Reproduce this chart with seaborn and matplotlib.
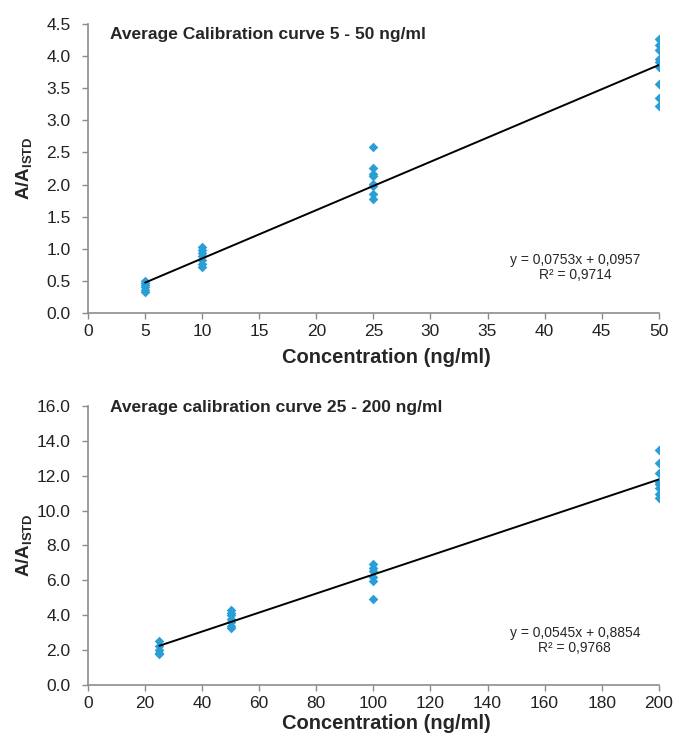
import pandas as pd
import seaborn as sns
import matplotlib.pyplot as plt
import numpy as np

# curve 5 - 50 ng/ml
conc_low = [5] * 6 + [10] * 7 + [25] * 8 + [50] * 9
ratio_low = [0.50, 0.47, 0.43, 0.40, 0.36, 0.33,
             1.03, 0.98, 0.93, 0.88, 0.83, 0.77, 0.71,
             2.58, 2.26, 2.17, 2.13, 2.01, 1.97, 1.85, 1.78,
             4.27, 4.18, 4.09, 3.95, 3.91, 3.83, 3.57, 3.35, 3.23]
fit_low = (0.0753, 0.0957)
eq_low = "y = 0,0753x + 0,0957\nR² = 0,9714"

# curve 25 - 200 ng/ml
conc_high = [25] * 5 + [50] * 7 + [100] * 6 + [200] * 8
ratio_high = [2.55, 2.25, 2.00, 1.85, 1.75,
              4.30, 4.15, 4.00, 3.80, 3.60, 3.40, 3.25,
              6.95, 6.69, 6.55, 6.21, 5.98, 4.92,
              13.50, 12.75, 12.17, 11.66, 11.50, 11.30, 10.95, 10.72]
fit_high = (0.0545, 0.8854)
eq_high = "y = 0,0545x + 0,8854\nR² = 0,9768"

sns.set_style("white")
plt.rcParams['font.family'] = ['Liberation Sans', 'DejaVu Sans']
plt.rcParams['mathtext.fontset'] = 'custom'
plt.rcParams['mathtext.rm'] = 'Liberation Sans'
plt.rcParams['mathtext.bf'] = 'Liberation Sans:bold'

point_color = '#2a9fd6'
axis_color = '#8c8c8c'

fig = plt.figure(figsize=(6.77, 7.39), dpi=100)
ax1 = fig.add_axes([0.130, 0.5765, 0.843, 0.391])
ax2 = fig.add_axes([0.130, 0.0731, 0.843, 0.3775])


def draw_panel(ax, conc, ratio, fit, eq, title, title_y, xlab_y, xmax, xstep, ymax, ystep):
    df = pd.DataFrame({'conc': conc, 'ratio': ratio})
    xs = np.array([min(conc), max(conc)])
    ax.plot(xs, fit[0] * xs + fit[1], color='black', lw=1.4, zorder=3)
    sns.scatterplot(data=df, x='conc', y='ratio', ax=ax, marker='D', s=24,
                    color=point_color, edgecolor=point_color, linewidth=0, zorder=2)
    ax.set_xlim(0, xmax)
    ax.set_ylim(0, ymax)
    yt = np.arange(0, ymax + 0.001, ystep)
    ax.set_xticks(np.arange(0, xmax + 0.01, xstep))
    ax.set_yticks(yt)
    ax.set_yticklabels(['{:.1f}'.format(v) for v in yt])
    for s in ['top', 'right']:
        ax.spines[s].set_visible(False)
    for s in ['left', 'bottom']:
        ax.spines[s].set_color(axis_color)
        ax.spines[s].set_linewidth(1.2)
    ax.tick_params(axis='both', direction='out', length=4, width=1, color=axis_color,
                   labelsize=12.5, labelcolor='#222222', left=True, bottom=True)
    ax.tick_params(axis='y', pad=8.5)
    ax.tick_params(axis='x', pad=4)
    ax.set_xlabel('Concentration (ng/ml)', fontsize=14.5, fontweight='bold')
    ax.xaxis.set_label_coords(0.522, xlab_y)
    ax.set_ylabel(r'$\mathbf{A/A_{ISTD}}$', fontsize=13.5)
    ax.yaxis.set_label_coords(-0.112, 0.5)
    ax.yaxis.label.set_va('center')
    ax.text(0.0385, title_y, title, transform=ax.transAxes, fontsize=12.5,
            fontweight='bold', va='center', ha='left')
    ax.text(0.853, 0.158, eq, transform=ax.transAxes, fontsize=10,
            va='center', ha='center', multialignment='center', linespacing=1.1)


draw_panel(ax1, conc_low, ratio_low, fit_low, eq_low,
           'Average Calibration curve 5 - 50 ng/ml', 0.962, -0.12, 50, 5, 4.5, 0.5)
draw_panel(ax2, conc_high, ratio_high, fit_high, eq_high,
           'Average calibration curve 25 - 200 ng/ml', 0.996, -0.105, 200, 20, 16, 2)

plt.savefig('out.png', dpi=100)
plt.close()
